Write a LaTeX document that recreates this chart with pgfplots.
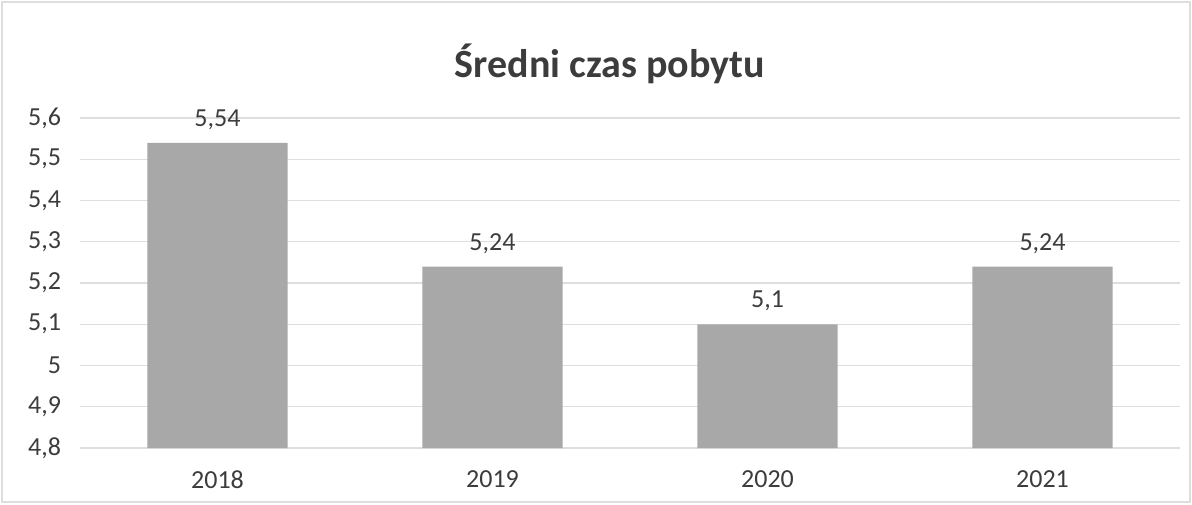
\documentclass[border=0pt]{standalone}
\usepackage{fontspec}
\setmainfont{Carlito}
\usepackage{pgfplots}
\pgfplotsset{compat=1.18}
\definecolor{barfill}{RGB}{168,168,168}
\definecolor{txt}{RGB}{60,60,60}
\definecolor{gridc}{RGB}{222,222,222}
\begin{document}
\begin{tikzpicture}
\begin{axis}[
    at={(0,0)}, anchor=south west,
    scale only axis,
    width=550pt, height=165pt,
    xmin=-0.5, xmax=3.5,
    ymin=4.8, ymax=5.6,
    ytick={4.8,4.9,5.0,5.1,5.2,5.3,5.4,5.5,5.6},
    xtick={0,1,2,3},
    xticklabels={2018,2019,2020,2021},
    axis line style={draw=none},
    major tick length=0pt,
    ymajorgrids, grid style={gridc, line width=0.6pt},
    tick label style={font=\fontsize{13}{15}\selectfont, text=txt},
    xticklabel style={yshift=-8pt},
    yticklabel style={xshift=-6pt},
    /pgf/number format/.cd, use comma, assume math mode=true,
    /pgfplots/.cd,
    nodes near coords,
    nodes near coords style={font=\fontsize{13}{15}\selectfont, text=txt, yshift=3pt,
        /pgf/number format/.cd, use comma, precision=2},
    clip=false,
]
\addplot[ybar, bar width=0.51, fill=barfill, draw=none] coordinates {
    (0,5.54) (1,5.24) (2,5.1) (3,5.24)
};
\end{axis}
\node[anchor=base, font=\fontsize{20}{24}\selectfont\bfseries, text=txt] at (265pt,185pt) {Średni czas pobytu};
\path[use as bounding box] (-40pt,-28pt) rectangle (556pt,224pt);
\draw[gridc, line width=0.6pt] (-39pt,-27pt) rectangle (555pt,223pt);
\end{tikzpicture}
\end{document}
